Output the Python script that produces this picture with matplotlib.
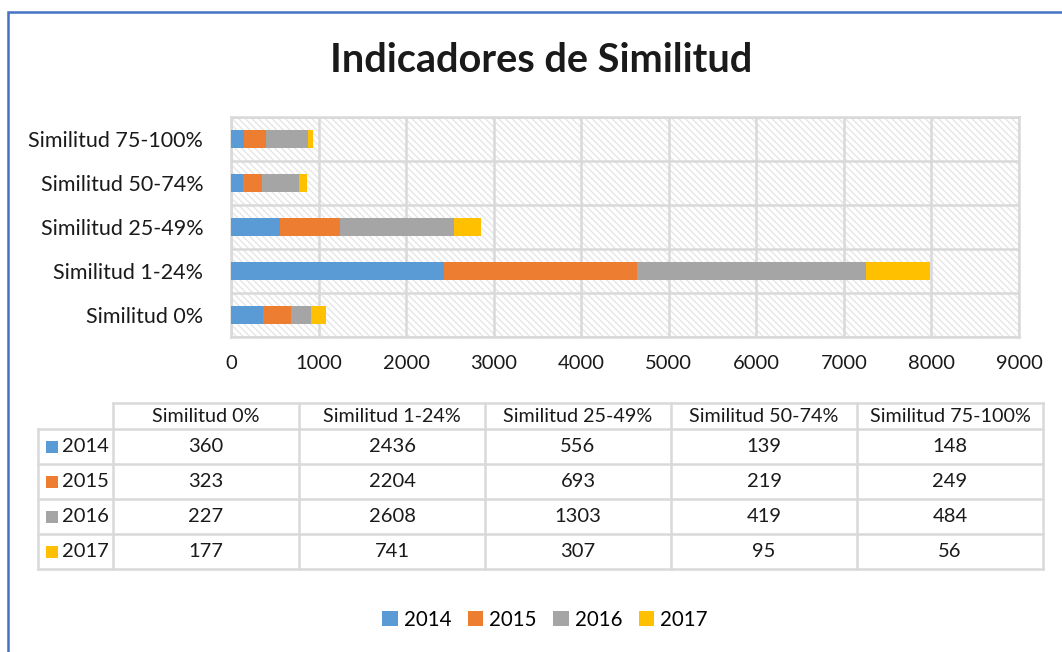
import numpy as np
import matplotlib
matplotlib.use('Agg')
from matplotlib import pyplot as plt
from matplotlib.patches import Rectangle

# data
categories = ['Similitud 0%', 'Similitud 1-24%', 'Similitud 25-49%', 'Similitud 50-74%', 'Similitud 75-100%']
years = ['2014', '2015', '2016', '2017']
v2014 = [360, 2436, 556, 139, 148]
v2015 = [323, 2204, 693, 219, 249]
v2016 = [227, 2608, 1303, 419, 484]
v2017 = [177, 741, 307, 95, 56]
series = [v2014, v2015, v2016, v2017]
colors = ['#5B9BD5', '#ED7D31', '#A5A5A5', '#FFC000']
xticks = [0, 1000, 2000, 3000, 4000, 5000, 6000, 7000, 8000, 9000]

plt.rcParams['font.family'] = ['Lato', 'DejaVu Sans']
W, H = 1062, 652
fig = plt.figure(figsize=(W / 100, H / 100), dpi=100)
grid_col = '#d9d9d9'
txt_col = '#1a1a1a'

def fx(px):
    return px / W

def fy(py):
    return 1 - py / H

# outer blue frame (cropped on the right and bottom)
fig.patches.append(Rectangle((fx(8), -0.1), 1.2, fy(12) + 0.1, transform=fig.transFigure,
                             fill=False, edgecolor='#4472C4', lw=1.8, zorder=0))

fig.text(fx(541), fy(61), 'Indicadores de Similitud', ha='center', va='center',
         fontsize=28.5, fontweight='bold', color=txt_col)

# bar chart
left, right, top, bottom = 231, 1019, 117, 337
ax = fig.add_axes([fx(left), fy(bottom), fx(right) - fx(left), fy(top) - fy(bottom)])
ax.add_patch(Rectangle((0, 0), 1, 1, transform=ax.transAxes, facecolor='white',
                       edgecolor='#e6e6e6', hatch='\\\\\\\\\\', lw=0, zorder=0))
ypos = np.arange(len(categories))
base = np.zeros(len(categories))
for vals, c, yr in zip(series, colors, years):
    ax.barh(ypos, vals, left=base, height=0.39, color=c, label=yr, zorder=3)
    base += np.array(vals)

ax.set_xlim(0, 9000)
ax.set_ylim(-0.5, len(categories) - 0.5)
ax.set_xticks(xticks)
ax.set_yticks(ypos)
ax.set_yticklabels(categories)
ax.set_yticks(np.arange(-0.5, len(categories), 1), minor=True)
ax.tick_params(axis='both', which='both', length=0)
ax.tick_params(axis='x', pad=13, labelsize=14.5, labelcolor=txt_col)
ax.tick_params(axis='y', pad=20, labelsize=15.5, labelcolor=txt_col)
ax.grid(axis='x', which='major', color=grid_col, lw=1.8, zorder=1)
ax.grid(axis='y', which='minor', color=grid_col, lw=1.8, zorder=1)
for s in ax.spines.values():
    s.set_color(grid_col)
    s.set_linewidth(1.8)
ax.set_facecolor('none')

# data table
tax = fig.add_axes([0, 0, 1, 1])
tax.set_xlim(0, W)
tax.set_ylim(H, 0)
tax.axis('off')
col_edges = [38, 113, 299, 485, 671, 857, 1043]
row_edges = [403, 429, 464, 499, 534, 569]
lk = dict(color=grid_col, lw=1.8)
tax.plot([col_edges[1], col_edges[-1]], [row_edges[0]] * 2, **lk)
for x in col_edges[1:]:
    tax.plot([x, x], [row_edges[0], row_edges[-1]], **lk)
tax.plot([col_edges[0], col_edges[0]], [row_edges[1], row_edges[-1]], **lk)
for y in row_edges[1:]:
    tax.plot([col_edges[0], col_edges[-1]], [y, y], **lk)
for j, cat in enumerate(categories):
    xc = (col_edges[j + 1] + col_edges[j + 2]) / 2
    tax.text(xc, (row_edges[0] + row_edges[1]) / 2 + 1, cat, ha='center', va='center',
             fontsize=14.2, color=txt_col)
for i, (vals, c, yr) in enumerate(zip(series, colors, years)):
    yc = (row_edges[i + 1] + row_edges[i + 2]) / 2
    tax.add_patch(Rectangle((46, yc - 6), 12, 12, facecolor=c, lw=0))
    tax.text(62, yc, yr, ha='left', va='center', fontsize=14.5, color=txt_col)
    for j, v in enumerate(vals):
        xc = (col_edges[j + 1] + col_edges[j + 2]) / 2
        tax.text(xc, yc, str(v), ha='center', va='center', fontsize=14.5, color=txt_col)

# legend
handles = [Rectangle((0, 0), 1, 1, facecolor=c, lw=0) for c in colors]
fig.legend(handles, years, loc='center', bbox_to_anchor=(fx(545), fy(620)), ncol=4,
           frameon=False, fontsize=14.8, handlelength=0.75, handleheight=0.75,
           handletextpad=0.3, columnspacing=0.8)

fig.savefig('out.png', dpi=100)
